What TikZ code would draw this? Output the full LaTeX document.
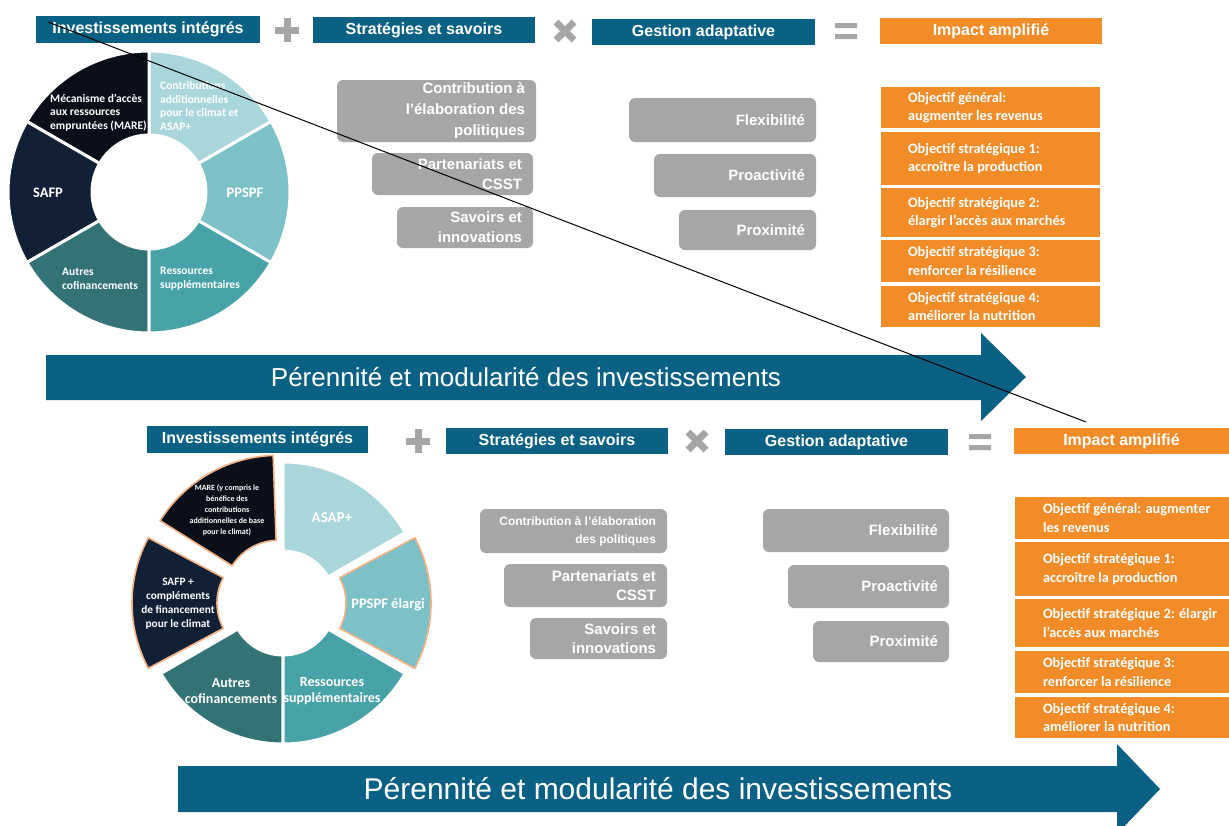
\documentclass[tikz,border=0pt]{standalone}
\usepackage{fontspec}
\setmainfont{Liberation Sans}
\newfontfamily\calfont{Carlito}
\usetikzlibrary{calc}
\definecolor{ifadblue}{HTML}{0B6183}
\definecolor{boxgray}{HTML}{A6A6A6}
\definecolor{ifadorange}{HTML}{F28C28}
\definecolor{segA}{HTML}{A9D6DB}
\definecolor{segB}{HTML}{7CC1C6}
\definecolor{segC}{HTML}{48A3A9}
\definecolor{segD}{HTML}{337375}
\definecolor{segE}{HTML}{122036}
\definecolor{segF}{HTML}{0A0F19}
\definecolor{explode}{HTML}{F4B183}
\newcommand\ringseg[5]{\path[#1] (#2:#4) arc[start angle=#2,end angle=#3,radius=#4] -- (#3:#5) arc[start angle=#3,end angle=#2,radius=#5] -- cycle;}
\begin{document}
\begin{tikzpicture}[x=1pt,y=-1pt,
  hdr/.style={fill=ifadblue,text=white,inner sep=0pt,font=\bfseries\fontsize{16}{18}\selectfont},
  imp/.style={hdr,fill=ifadorange},
  gbox/.style={fill=boxgray,rounded corners=6pt,inner sep=0pt},
  gtext/.style={text=white,align=right,inner sep=0pt,anchor=east,font=\bfseries\fontsize{15}{21}\selectfont},
  obox/.style={fill=ifadorange,inner sep=0pt},
  otext/.style={text=white,align=left,inner sep=0pt,anchor=west,font=\calfont\bfseries\fontsize{14.3}{18.5}\selectfont},
  seg/.style={draw=white,line width=3pt},
  xseg/.style={draw=explode,line width=1.6pt},
  slbl/.style={text=white,inner sep=0pt,font=\calfont\bfseries\fontsize{11.5}{13.5}\selectfont},
  oper/.style={draw=boxgray,line width=7pt},
  arrtext/.style={text=white,inner sep=0pt}]
\clip (0,0) rectangle (1229,825);
\fill[white] (0,0) rectangle (1229,825);

% ================= TOP ROW =================
\node[hdr,minimum width=224pt,minimum height=27pt] (h1) at (148,29.5) {Investissements intégrés};
\node[hdr,minimum width=222pt,minimum height=26pt] (h2) at (424,30) {Stratégies et savoirs};
\node[hdr,minimum width=223pt,minimum height=26pt] (h3) at (703.5,32) {Gestion adaptative};
\node[imp,minimum width=222pt,minimum height=26pt] (h4) at (991,31) {Impact amplifié};
\draw[oper] (275,30) -- (299,30) (287,18) -- (287,42);
\draw[oper] (556,22) -- (574,40) (556,40) -- (574,22);
\fill[boxgray] (835,23) rectangle (857,28) (835,34) rectangle (857,39);

% donut top
\begin{scope}[shift={(149,192)}]
\ringseg{seg,fill=segA}{-30}{-90}{141}{57}
\ringseg{seg,fill=segF}{-90}{-150}{141}{57}
\ringseg{seg,fill=segE}{-150}{-210}{141}{57}
\ringseg{seg,fill=segD}{-210}{-270}{141}{57}
\ringseg{seg,fill=segC}{-270}{-330}{141}{57}
\ringseg{seg,fill=segB}{-330}{-390}{141}{57}
\end{scope}
\node[slbl,anchor=west,align=left] (t1) at (50,112.5) {Mécanisme d’accès\\aux ressources\\empruntées (MARE)};
\node[slbl,anchor=west,align=left] (t2) at (160,106) {Contributions\\additionnelles\\pour le climat et\\ASAP+};
\node[slbl,font=\calfont\bfseries\fontsize{14.5}{16}\selectfont] (t3) at (48,193) {SAFP};
\node[slbl,font=\calfont\bfseries\fontsize{14.5}{16}\selectfont] (t4) at (245,193) {PPSPF};
\node[slbl,anchor=west,align=left,font=\calfont\bfseries\fontsize{11.5}{14}\selectfont] (t5) at (62,279) {Autres\\cofinancements};
\node[slbl,anchor=west,align=left,font=\calfont\bfseries\fontsize{11.5}{14}\selectfont] (t6) at (160,279) {Ressources\\supplémentaires};

% gray boxes top
\node[gbox,minimum width=199pt,minimum height=62pt] (g1) at (436.5,111) {};
\node[gtext] (g1t) at ([xshift=-11pt]g1.east) {Contribution à\\l’élaboration des\\politiques};
\node[gbox,minimum width=161pt,minimum height=42pt] (g2) at (452.5,174) {};
\node[gtext,font=\bfseries\fontsize{15}{20}\selectfont] (g2t) at ([xshift=-11pt]g2.east) {Partenariats et\\CSST};
\node[gbox,minimum width=136pt,minimum height=41pt] (g3) at (465,227.5) {};
\node[gtext,font=\bfseries\fontsize{15}{20}\selectfont] (g3t) at ([xshift=-11pt]g3.east) {Savoirs et\\innovations};
\node[gbox,minimum width=187pt,minimum height=44pt] (f1) at (722.5,120) {};
\node[gtext] (f1t) at ([xshift=-11pt]f1.east) {Flexibilité};
\node[gbox,minimum width=162pt,minimum height=43pt] (f2) at (735,175.5) {};
\node[gtext] (f2t) at ([xshift=-11pt]f2.east) {Proactivité};
\node[gbox,minimum width=137pt,minimum height=40pt] (f3) at (747.5,230) {};
\node[gtext] (f3t) at ([xshift=-11pt]f3.east) {Proximité};

% orange boxes top
\node[obox,minimum width=219pt,minimum height=41pt] (o1) at (990.5,107.5) {};
\node[otext] (o1t) at ([xshift=27pt]o1.west) {Objectif général:\\augmenter les revenus};
\node[obox,minimum width=219pt,minimum height=53pt] (o2) at (990.5,158.5) {};
\node[otext] (o2t) at ([xshift=27pt]o2.west) {Objectif stratégique 1:\\accroître la production};
\node[obox,minimum width=219pt,minimum height=49pt] (o3) at (990.5,212.5) {};
\node[otext] (o3t) at ([xshift=27pt]o3.west) {Objectif stratégique 2:\\élargir l’accès aux marchés};
\node[obox,minimum width=219pt,minimum height=42pt] (o4) at (990.5,261) {};
\node[otext] (o4t) at ([xshift=27pt]o4.west) {Objectif stratégique 3:\\renforcer la résilience};
\node[obox,minimum width=219pt,minimum height=41pt] (o5) at (990.5,306.5) {};
\node[otext] (o5t) at ([xshift=27pt]o5.west) {Objectif stratégique 4:\\améliorer la nutrition};

% arrow top
\fill[ifadblue] (46,355) -- (981,355) -- (981,333) -- (1026,377) -- (981,421) -- (981,400) -- (46,400) -- cycle;
\node[arrtext,font=\fontsize{26}{30}\selectfont] (a1) at (526,377) {Pérennité et modularité des investissements};

% ================= BOTTOM ROW =================
\node[hdr,minimum width=221pt,minimum height=27pt] (b1) at (257.5,439.5) {Investissements intégrés};
\node[hdr,minimum width=222pt,minimum height=26pt] (b2) at (557,441) {Stratégies et savoirs};
\node[hdr,minimum width=223pt,minimum height=26pt] (b3) at (836.5,442) {Gestion adaptative};
\node[imp,minimum width=215pt,minimum height=26pt] (b4) at (1121.5,441) {Impact amplifié};
\draw[oper] (406,441) -- (430,441) (418,429) -- (418,453);
\draw[oper] (688,432) -- (706,450) (688,450) -- (706,432);
\fill[boxgray] (969,434) rectangle (991,439) (969,445) rectangle (991,450);

% donut bottom
\begin{scope}[shift={(283,603)}]
\ringseg{seg,fill=segA}{-30}{-90}{141}{52}
\ringseg{seg,fill=segD}{-210}{-270}{141}{52}
\ringseg{seg,fill=segC}{-270}{-330}{141}{52}
\ringseg{xseg,fill=segF,shift={(-120:10)}}{-92}{-148}{139}{54}
\ringseg{xseg,fill=segE,shift={(180:12)}}{-152}{-208}{139}{54}
\ringseg{xseg,fill=segB,shift={(0:9)}}{-332}{-388}{139}{54}
\end{scope}
\node[slbl,align=center,font=\calfont\bfseries\fontsize{8}{11}\selectfont] (u1) at (227,510) {MARE (y compris le\\bénéfice des\\contributions\\additionnelles de base\\pour le climat)};
\node[slbl,font=\calfont\bfseries\fontsize{15}{17}\selectfont] (u2) at (332,518) {ASAP+};
\node[slbl,align=center,font=\calfont\bfseries\fontsize{11.3}{14}\selectfont] (u3) at (178,604) {SAFP +\\compléments\\de financement\\pour le climat};
\node[slbl,font=\calfont\bfseries\fontsize{14.5}{16}\selectfont] (u4) at (388,605) {PPSPF élargi};
\node[slbl,align=center,font=\calfont\bfseries\fontsize{14}{16.5}\selectfont] (u5) at (231,691) {Autres\\cofinancements};
\node[slbl,align=center,font=\calfont\bfseries\fontsize{14}{16.5}\selectfont] (u6) at (332,691) {Ressources\\supplémentaires};

% gray boxes bottom
\node[gbox,minimum width=187pt,minimum height=44pt] (gb1) at (573.5,531) {};
\node[gtext,font=\bfseries\fontsize{12}{18}\selectfont] (gb1t) at ([xshift=-11pt]gb1.east) {Contribution à l’élaboration\\des politiques};
\node[gbox,minimum width=163pt,minimum height=43pt] (gb2) at (585.5,585.5) {};
\node[gtext,font=\bfseries\fontsize{15}{19}\selectfont] (gb2t) at ([xshift=-11pt]gb2.east) {Partenariats et\\CSST};
\node[gbox,minimum width=137pt,minimum height=41pt] (gb3) at (598.5,638.5) {};
\node[gtext,font=\bfseries\fontsize{15}{19}\selectfont] (gb3t) at ([xshift=-11pt]gb3.east) {Savoirs et\\innovations};
\node[gbox,minimum width=186pt,minimum height=43pt] (fb1) at (856,530.5) {};
\node[gtext] (fb1t) at ([xshift=-11pt]fb1.east) {Flexibilité};
\node[gbox,minimum width=161pt,minimum height=43pt] (fb2) at (868.5,586.5) {};
\node[gtext] (fb2t) at ([xshift=-11pt]fb2.east) {Proactivité};
\node[gbox,minimum width=136pt,minimum height=41pt] (fb3) at (881,641.5) {};
\node[gtext] (fb3t) at ([xshift=-11pt]fb3.east) {Proximité};

% orange boxes bottom
\node[obox,minimum width=214pt,minimum height=42pt] (p1) at (1122,518) {};
\node[otext] (p1t) at ([xshift=28pt]p1.west) {Objectif général: augmenter\\les revenus};
\node[obox,minimum width=214pt,minimum height=54pt] (p2) at (1122,569) {};
\node[otext] (p2t) at ([xshift=28pt]p2.west) {Objectif stratégique 1:\\accroître la production};
\node[obox,minimum width=214pt,minimum height=48pt] (p3) at (1122,623) {};
\node[otext] (p3t) at ([xshift=28pt]p3.west) {Objectif stratégique 2: élargir\\l’accès aux marchés};
\node[obox,minimum width=214pt,minimum height=42pt] (p4) at (1122,672) {};
\node[otext] (p4t) at ([xshift=28pt]p4.west) {Objectif stratégique 3:\\renforcer la résilience};
\node[obox,minimum width=214pt,minimum height=41pt] (p5) at (1122,717.5) {};
\node[otext] (p5t) at ([xshift=28pt]p5.west) {Objectif stratégique 4:\\améliorer la nutrition};

% arrow bottom
\fill[ifadblue] (178,766) -- (1117,766) -- (1117,744) -- (1160,789) -- (1117,834) -- (1117,812) -- (178,812) -- cycle;
\node[arrtext,font=\fontsize{30}{34}\selectfont] (a2) at (658,789) {Pérennité et modularité des investissements};

% diagonal line
\coordinate (ls) at (48,22);
\coordinate (le) at (1086,422);
\draw[black,line width=1pt] (ls) -- (le);
\end{tikzpicture}
\end{document}
